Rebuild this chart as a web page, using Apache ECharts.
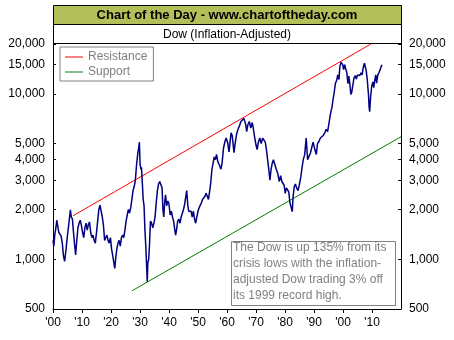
<!DOCTYPE html>
<html>
<head>
<meta charset="utf-8">
<script src="https://cdn.jsdelivr.net/npm/echarts@6/dist/echarts.min.js"></script>
<style>
  html, body { margin: 0; padding: 0; background: #fff; }
  #chart { width: 454px; height: 340px; }
</style>
</head>
<body>
<div id="chart"></div>
<script>
// Dow (inflation-adjusted): [year, value]
const dowYears = [
  1900.0, 1900.3, 1900.6, 1901.0, 1901.3, 1901.6, 1902.0, 1902.4, 1902.8, 1903.2,
  1903.6, 1904.0, 1904.2, 1904.5, 1905.0, 1905.4, 1905.8, 1906.0, 1906.3, 1906.7,
  1907.0, 1907.4, 1907.8, 1908.2, 1908.6, 1909.0, 1909.4, 1909.8, 1910.2, 1910.6,
  1911.0, 1911.4, 1911.8, 1912.2, 1912.6, 1913.0, 1913.4, 1913.8, 1914.2, 1914.6,
  1915.0, 1915.4, 1915.8, 1916.2, 1916.6, 1917.0, 1917.4, 1917.8, 1918.2, 1918.6,
  1919.0, 1919.4, 1919.8, 1920.2, 1920.6, 1921.0, 1921.3, 1921.6, 1922.0, 1922.4,
  1922.8, 1923.2, 1923.6, 1924.0, 1924.4, 1924.8, 1925.2, 1925.6, 1926.0, 1926.4,
  1926.8, 1927.2, 1927.6, 1928.0, 1928.4, 1928.8, 1929.2, 1929.6, 1929.8, 1930.0,
  1930.3, 1930.5, 1930.8, 1931.1, 1931.4, 1931.7, 1932.0, 1932.3, 1932.5, 1932.7,
  1933.0, 1933.3, 1933.6, 1934.0, 1934.4, 1934.8, 1935.2, 1935.6, 1936.0, 1936.4,
  1936.8, 1937.2, 1937.6, 1937.9, 1938.2, 1938.5, 1938.8, 1939.2, 1939.6, 1940.0,
  1940.4, 1940.8, 1941.2, 1941.6, 1942.0, 1942.3, 1942.7, 1943.0, 1943.4, 1943.8,
  1944.2, 1944.6, 1945.0, 1945.4, 1945.8, 1946.1, 1946.5, 1946.8, 1947.2, 1947.6,
  1948.0, 1948.4, 1948.8, 1949.2, 1949.6, 1950.0, 1950.4, 1950.8, 1951.2, 1951.6,
  1952.0, 1952.4, 1952.8, 1953.2, 1953.6, 1954.0, 1954.4, 1954.8, 1955.2, 1955.6,
  1956.0, 1956.4, 1956.8, 1957.4, 1957.9, 1958.3, 1958.8, 1959.3, 1959.7, 1960.2,
  1960.7, 1961.0, 1961.4, 1961.8, 1962.4, 1962.8, 1963.3, 1963.8, 1964.3, 1964.8,
  1965.3, 1965.8, 1966.0, 1966.4, 1966.8, 1967.2, 1967.7, 1968.2, 1968.7, 1969.0,
  1969.5, 1970.0, 1970.4, 1970.8, 1971.3, 1971.8, 1972.3, 1972.8, 1973.2, 1973.6,
  1974.0, 1974.4, 1974.8, 1975.2, 1975.6, 1976.0, 1976.5, 1977.0, 1977.5, 1978.0,
  1978.5, 1978.9, 1979.3, 1979.7, 1980.1, 1980.5, 1980.9, 1981.3, 1981.7, 1982.2,
  1982.5, 1982.8, 1983.2, 1983.6, 1984.0, 1984.5, 1984.9, 1985.4, 1985.9, 1986.3,
  1986.8, 1987.3, 1987.8, 1988.3, 1988.8, 1989.3, 1989.7, 1990.3, 1990.8, 1991.2,
  1991.7, 1992.2, 1992.7, 1993.2, 1993.7, 1994.2, 1994.7, 1995.2, 1995.7, 1996.2,
  1996.6, 1997.0, 1997.4, 1997.8, 1998.2, 1998.6, 1998.9, 1999.3, 1999.6, 1999.9,
  2000.2, 2000.6, 2000.9, 2001.3, 2001.7, 2002.0, 2002.4, 2002.7, 2003.0, 2003.4,
  2003.8, 2004.2, 2004.6, 2005.0, 2005.4, 2005.8, 2006.2, 2006.6, 2007.0, 2007.4,
  2007.7, 2008.0, 2008.4, 2008.8, 2009.0, 2009.2, 2009.5, 2009.9, 2010.3, 2010.6,
  2011.0, 2011.3, 2011.6, 2012.0, 2012.4, 2012.8, 2013.4
];
const dowValues = [
  1300, 1200, 1400, 1550, 1720, 1600, 1450, 1420, 1380, 1250,
  1050, 970, 960, 1150, 1400, 1600, 1850, 1990, 1800, 1750,
  1500, 1250, 1060, 1300, 1550, 1650, 1720, 1600, 1450, 1350,
  1550, 1650, 1500, 1620, 1680, 1450, 1350, 1400, 1300, 1250,
  1450, 1700, 2000, 2120, 1950, 1800, 1600, 1300, 1350, 1400,
  1300, 1250, 1350, 1150, 1050, 950, 880, 1000, 1150, 1250,
  1300, 1200, 1350, 1400, 1350, 1500, 1700, 1850, 2000, 1900,
  2050, 2300, 2600, 2750, 3000, 3700, 4300, 4800, 5100, 3800,
  3500, 3600, 2900, 2300, 2100, 1500, 1200, 900, 730, 950,
  1000, 1250, 1700, 1650, 1550, 1650, 1800, 2200, 2600, 2850,
  2950, 3000, 2700, 2000, 1800, 2200, 2450, 2100, 2250, 2150,
  1850, 1950, 1800, 1700, 1500, 1400, 1550, 1700, 1750, 1650,
  1800, 1850, 2000, 2150, 2400, 2600, 2100, 1950, 1900, 1950,
  1800, 1950, 1750, 1650, 1800, 1950, 2050, 2000, 2200, 2300,
  2250, 2400, 2500, 2400, 2300, 2550, 2900, 3500, 3800, 4150,
  4000, 4300, 3900, 3700, 3500, 3800, 4700, 5150, 5400, 5100,
  4450, 5000, 5800, 5600, 4400, 5000, 5700, 6100, 6400, 6800,
  6900, 7100, 7300, 6600, 5900, 6500, 6800, 6200, 6700, 6300,
  5500, 4900, 4600, 5100, 5400, 5000, 5400, 5500, 5100, 4600,
  4000, 3500, 3000, 3500, 3800, 4000, 3900, 3500, 3300, 2950,
  3200, 2950, 2900, 2800, 2500, 2700, 2750, 2550, 2200, 2150,
  1940, 2400, 2750, 2850, 2700, 2600, 2800, 3100, 3600, 4000,
  4300, 5400, 4000, 4200, 4400, 4800, 5100, 4600, 4300, 5000,
  5150, 5400, 5300, 5600, 5800, 6100, 5900, 6700, 7600, 8300,
  9300, 10300, 11600, 12000, 13000, 12200, 14500, 15500, 15900, 15000,
  14000, 15000, 14200, 13500, 11500, 12800, 11300, 9900, 10200, 11300,
  12500, 12900, 12300, 13000, 12700, 12900, 13400, 13000, 14500, 15300,
  15400, 13800, 12000, 9800, 8300, 7800, 9500, 11100, 11800, 10900,
  12200, 13000, 11600, 13000, 13400, 13700, 15000
];

// trend channel end points
const resistanceYears = [1906.9, 2009.6];
const resistanceValues = [1830, 20000];
const supportYears = [1927.3, 2020];
const supportValues = [645, 5500];

const yTicks = [500, 1000, 2000, 3000, 4000, 5000, 10000, 15000, 20000];
const xMin = 1900, xMax = 2020, xStep = 10;

const pairs = (xs, ys) => xs.map((x, i) => [x, ys[i]]);
const fmtNum = (v) => String(Math.round(v)).replace(/\B(?=(\d{3})+(?!\d))/g, ",");

const FONT = "'Liberation Sans', Arial, sans-serif";

const yAxisBase = {
  type: "log",
  min: 500,
  max: 20000,
  axisLine: { show: true, lineStyle: { color: "#000", width: 1 } },
  axisTick: { show: true, inside: true, length: 3, customValues: yTicks, lineStyle: { color: "#000" } },
  axisLabel: {
    customValues: yTicks,
    formatter: fmtNum,
    color: "#000",
    fontSize: 12,
    fontFamily: FONT,
    margin: 8,
  },
  splitLine: { show: false },
  minorTick: { show: false },
};

const myChart = echarts.init(document.getElementById("chart"), null, { renderer: "canvas" });

const option = {
  animation: false,
  backgroundColor: "#fff",
  textStyle: { fontFamily: FONT },
  grid: { left: 53, right: 53, top: 44, bottom: 31 },
  xAxis: {
    type: "value",
    min: xMin,
    max: xMax,
    interval: xStep,
    axisLine: { lineStyle: { color: "#000", width: 1 } },
    axisTick: { show: true, length: 4, lineStyle: { color: "#000" } },
    axisLabel: {
      color: "#000",
      fontSize: 12,
      fontFamily: FONT,
      margin: 8,
      showMaxLabel: false,
      formatter: (v) => (v >= xMax ? "" : "'" + String(v).slice(2)),
    },
    splitLine: { show: false },
  },
  yAxis: [
    Object.assign({}, yAxisBase, { position: "left" }),
    Object.assign({}, yAxisBase, { position: "right" }),
  ],
  legend: {
    data: ["Resistance", "Support"],
    orient: "vertical",
    left: 60,
    top: 47,
    padding: [3, 6, 2, 5],
    itemGap: 1,
    itemWidth: 18,
    itemHeight: 1,
    icon: "rect",
    borderColor: "#808080",
    borderWidth: 1,
    backgroundColor: "#fff",
    textStyle: { color: "#808080", fontSize: 12, fontFamily: FONT, lineHeight: 14 },
  },
  graphic: [
    {
      type: "rect",
      shape: { x: 53.5, y: 5.5, width: 348, height: 19 },
      style: { fill: "#b3c05a", stroke: "#000", lineWidth: 1 },
    },
    {
      type: "text",
      x: 227, y: 15,
      style: {
        text: "Chart of the Day - www.chartoftheday.com",
        font: "bold 13px " + FONT,
        fill: "#000",
        align: "center",
        verticalAlign: "middle",
      },
    },
    {
      type: "rect",
      shape: { x: 53.5, y: 24.5, width: 348, height: 19 },
      style: { fill: "#fff", stroke: "#000", lineWidth: 1 },
    },
    {
      type: "text",
      x: 227, y: 34.5,
      style: {
        text: "Dow (Inflation-Adjusted)",
        font: "12px " + FONT,
        fill: "#000",
        align: "center",
        verticalAlign: "middle",
      },
    },
    {
      type: "rect",
      z: 10,
      shape: { x: 231.5, y: 241.5, width: 164, height: 64 },
      style: { fill: "#fff", stroke: "#808080", lineWidth: 1 },
    },
    {
      type: "text",
      z: 11,
      x: 233, y: 240,
      style: {
        text: "The Dow is up 135% from its\ncrisis lows with the inflation-\nadjusted Dow trading 3% off\nits 1999 record high.",
        font: "12px " + FONT,
        fill: "#808080",
        lineHeight: 16,
        align: "left",
        verticalAlign: "top",
      },
    },
  ],
  series: [
    {
      name: "Resistance",
      type: "line",
      data: pairs(resistanceYears, resistanceValues),
      symbol: "none",
      lineStyle: { color: "#ff0000", width: 1 },
      itemStyle: { color: "#ff0000" },
      z: 2,
    },
    {
      name: "Support",
      type: "line",
      data: pairs(supportYears, supportValues),
      symbol: "none",
      lineStyle: { color: "#008000", width: 1 },
      itemStyle: { color: "#008000" },
      z: 2,
    },
    {
      name: "Dow",
      type: "line",
      data: pairs(dowYears, dowValues),
      symbol: "none",
      lineStyle: { color: "#000080", width: 1.5 },
      itemStyle: { color: "#000080" },
      z: 3,
    },
  ],
};

myChart.setOption(option);
window.addEventListener("resize", myChart.resize);
</script>
</body>
</html>
